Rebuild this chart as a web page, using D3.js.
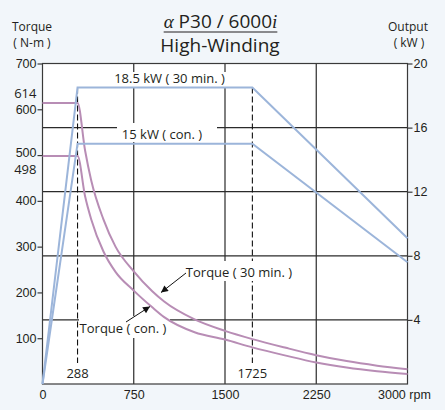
<!DOCTYPE html>
<html lang="en">
<head>
<meta charset="UTF-8">
<script src="https://d3js.org/d3.v7.min.js"></script>
<style>
  body { margin: 0; background: #f2f6fa; }
  svg { display: block; font-family: "Open Sans", sans-serif; }
  .tick text { font-size: 12.5px; fill: #231f20; }
</style>
</head>
<body>
<div id="chart"></div>
<script>
  // axis ticks
  const rpmTicks = [0, 750, 1500, 2250, 3000];
  const torqueTicks = [100, 200, 300, 400, 500, 600, 700];
  const outputTicks = [4, 8, 12, 16, 20];
  const markRpm = [288, 1725];
  const ratedTorque = [614, 498];

  // torque curves (N-m)
  const torqueRpm = [0, 288, 350, 400, 500, 600, 750, 900, 1000, 1250, 1500, 1725, 2000, 2250, 2500, 2750, 3000];
  const torque30 = [614, 614, 510, 445, 360, 300, 246, 203, 180, 141, 116, 98, 79, 63, 50, 40, 32];
  const torqueCon = [498, 498, 410, 360, 290, 245, 204, 168, 146, 113, 97, 80, 62, 47, 36, 28, 22];

  // output curves (kW)
  const outputRpm = [0, 288, 1725, 3000];
  const output30 = [0, 18.5, 18.5, 9.1];
  const outputCon = [0, 15, 15, 7.6];

  const W = 445, H = 410;
  const pLeft = 42.5, pTop = 63.5, pRight = 407.5, pBottom = 384;

  const svg = d3.select("#chart").append("svg")
      .attr("width", W).attr("height", H);

  const x = d3.scaleLinear().domain([0, 3000]).range([pLeft, pRight]);
  const y = d3.scaleLinear().domain([0, 700]).range([pBottom, pTop]);
  const yR = d3.scaleLinear().domain([0, 20]).range([pBottom, pTop]);

  svg.append("rect")
     .attr("x", pLeft).attr("y", pTop)
     .attr("width", pRight - pLeft).attr("height", pBottom - pTop)
     .attr("fill", "#fff");

  // grid
  svg.append("g").selectAll("line")
     .data(rpmTicks.slice(1, -1))
     .join("line")
     .attr("x1", d => x(d)).attr("x2", d => x(d))
     .attr("y1", pTop).attr("y2", pBottom)
     .attr("stroke", "#2b2b2b").attr("stroke-width", 1.2);

  svg.append("g").selectAll("line")
     .data(outputTicks.slice(0, -1))
     .join("line")
     .attr("x1", pLeft).attr("x2", pRight)
     .attr("y1", d => yR(d)).attr("y2", d => yR(d))
     .attr("stroke", "#2b2b2b").attr("stroke-width", 1.2);

  svg.append("g").selectAll("line")
     .data(markRpm)
     .join("line")
     .attr("x1", d => x(d)).attr("x2", d => x(d))
     .attr("y1", yR(18.5)).attr("y2", 363)
     .attr("stroke", "#111").attr("stroke-width", 1.1)
     .attr("stroke-dasharray", "6,3");

  // white boxes behind annotations
  const masks = [
    [114, 72, 112, 15],
    [117, 123, 100, 19],
    [185, 261, 108, 20],
    [79, 316, 91, 22]
  ];
  svg.append("g").selectAll("rect")
     .data(masks)
     .join("rect")
     .attr("x", d => d[0]).attr("y", d => d[1])
     .attr("width", d => d[2]).attr("height", d => d[3])
     .attr("fill", "#fff");

  // frame
  svg.append("rect")
     .attr("x", pLeft).attr("y", pTop)
     .attr("width", pRight - pLeft).attr("height", pBottom - pTop)
     .attr("fill", "none").attr("stroke", "#3a3a3a").attr("stroke-width", 1.2);

  // curves
  const torqueLine = d3.line().x(d => x(d[0])).y(d => y(d[1])).curve(d3.curveMonotoneX);
  const outputLine = d3.line().x(d => x(d[0])).y(d => yR(d[1]));

  [torque30, torqueCon].forEach(t => {
    svg.append("path")
       .datum(d3.zip(torqueRpm, t))
       .attr("d", torqueLine)
       .attr("fill", "none").attr("stroke", "#b88db5").attr("stroke-width", 2);
  });
  [output30, outputCon].forEach(p => {
    svg.append("path")
       .datum(d3.zip(outputRpm, p))
       .attr("d", outputLine)
       .attr("fill", "none").attr("stroke", "#9cb5da").attr("stroke-width", 2);
  });

  // axes
  const axL = svg.append("g")
     .attr("transform", `translate(${pLeft},0)`)
     .call(d3.axisLeft(y).tickValues(torqueTicks).tickSize(5).tickPadding(1));
  const axR = svg.append("g")
     .attr("transform", `translate(${pRight},0)`)
     .call(d3.axisRight(yR).tickValues(outputTicks).tickSize(5).tickPadding(1));
  const axB = svg.append("g")
     .attr("transform", `translate(0,${pBottom})`)
     .call(d3.axisBottom(x).tickValues(rpmTicks).tickSize(0).tickPadding(6)
       .tickFormat(d => d === 3000 ? "3000 rpm" : d));
  [axL, axR, axB].forEach(g => {
    g.select(".domain").remove();
    g.selectAll(".tick line").attr("stroke", "#3a3a3a").attr("stroke-width", 1.2);
    g.selectAll(".tick text").attr("font-size", 13);
  });
  axB.selectAll(".tick text").filter(d => d === 3000)
     .attr("text-anchor", "start").attr("dx", -30);
  axL.selectAll(".tick text").filter(d => d === 500).attr("dy", "0.1em");

  // rated torque labels beside 600 / 500
  svg.append("g").selectAll("text")
     .data(ratedTorque)
     .join("text")
     .attr("x", pLeft - 6)
     .attr("y", (d, i) => y(d) + (i === 0 ? -9.5 : 13.5))
     .attr("dy", "0.32em")
     .attr("text-anchor", "end")
     .attr("font-size", 13).attr("fill", "#231f20")
     .text(d => d);

  // speed labels for the dashed lines
  svg.append("g").selectAll("text")
     .data(markRpm)
     .join("text")
     .attr("x", d => x(d)).attr("y", 378)
     .attr("text-anchor", "middle")
     .attr("font-size", 13).attr("fill", "#231f20")
     .text(d => d);

  // annotations
  const note = (tx, ty, s) => svg.append("text")
     .attr("x", tx).attr("y", ty)
     .attr("text-anchor", "middle")
     .attr("font-size", 13).attr("fill", "#231f20")
     .text(s);
  note(169.5, 83, "18.5 kW ( 30 min. )");
  note(162, 139, "15 kW ( con. )");
  note(239, 277, "Torque ( 30 min. )");
  note(123, 333, "Torque ( con. )");

  svg.append("defs").append("marker")
     .attr("id", "arr")
     .attr("viewBox", "0 0 10 10")
     .attr("refX", 10).attr("refY", 5)
     .attr("markerWidth", 9).attr("markerHeight", 7)
     .attr("markerUnits", "userSpaceOnUse")
     .attr("orient", "auto")
     .append("path").attr("d", "M0,0L10,5L0,10Z").attr("fill", "#111");

  svg.append("line")
     .attr("x1", 186).attr("y1", 273).attr("x2", 161).attr("y2", 292.5)
     .attr("stroke", "#111").attr("stroke-width", 1).attr("marker-end", "url(#arr)");
  svg.append("line")
     .attr("x1", 126).attr("y1", 322).attr("x2", 150).attr("y2", 306.5)
     .attr("stroke", "#111").attr("stroke-width", 1).attr("marker-end", "url(#arr)");

  // axis titles
  const label = (tx, ty, anchor, s, size) => svg.append("text")
     .attr("x", tx).attr("y", ty)
     .attr("text-anchor", anchor)
     .attr("font-size", size).attr("fill", "#231f20")
     .text(s);
  label(32, 31, "middle", "Torque", 12);
  label(32, 47, "middle", "( N-m )", 12);
  label(408, 31, "middle", "Output", 12);
  label(409, 47, "middle", "( kW )", 12);

  // title
  const t1 = svg.append("text")
     .attr("x", 220.5).attr("y", 28)
     .attr("text-anchor", "middle")
     .attr("font-size", 19).attr("fill", "#231f20");
  t1.append("tspan").attr("font-family", "Liberation Serif, serif").attr("font-style", "italic").text("α");
  t1.append("tspan").text(" P30 / 6000");
  t1.append("tspan").attr("font-family", "Liberation Serif, serif").attr("font-style", "italic").text("i");
  const bb = t1.node().getBBox();
  svg.append("line")
     .attr("x1", bb.x).attr("x2", bb.x + bb.width)
     .attr("y1", 32).attr("y2", 32)
     .attr("stroke", "#231f20").attr("stroke-width", 1.2);

  label(220, 52, "middle", "High-Winding", 19);
</script>
</body>
</html>
